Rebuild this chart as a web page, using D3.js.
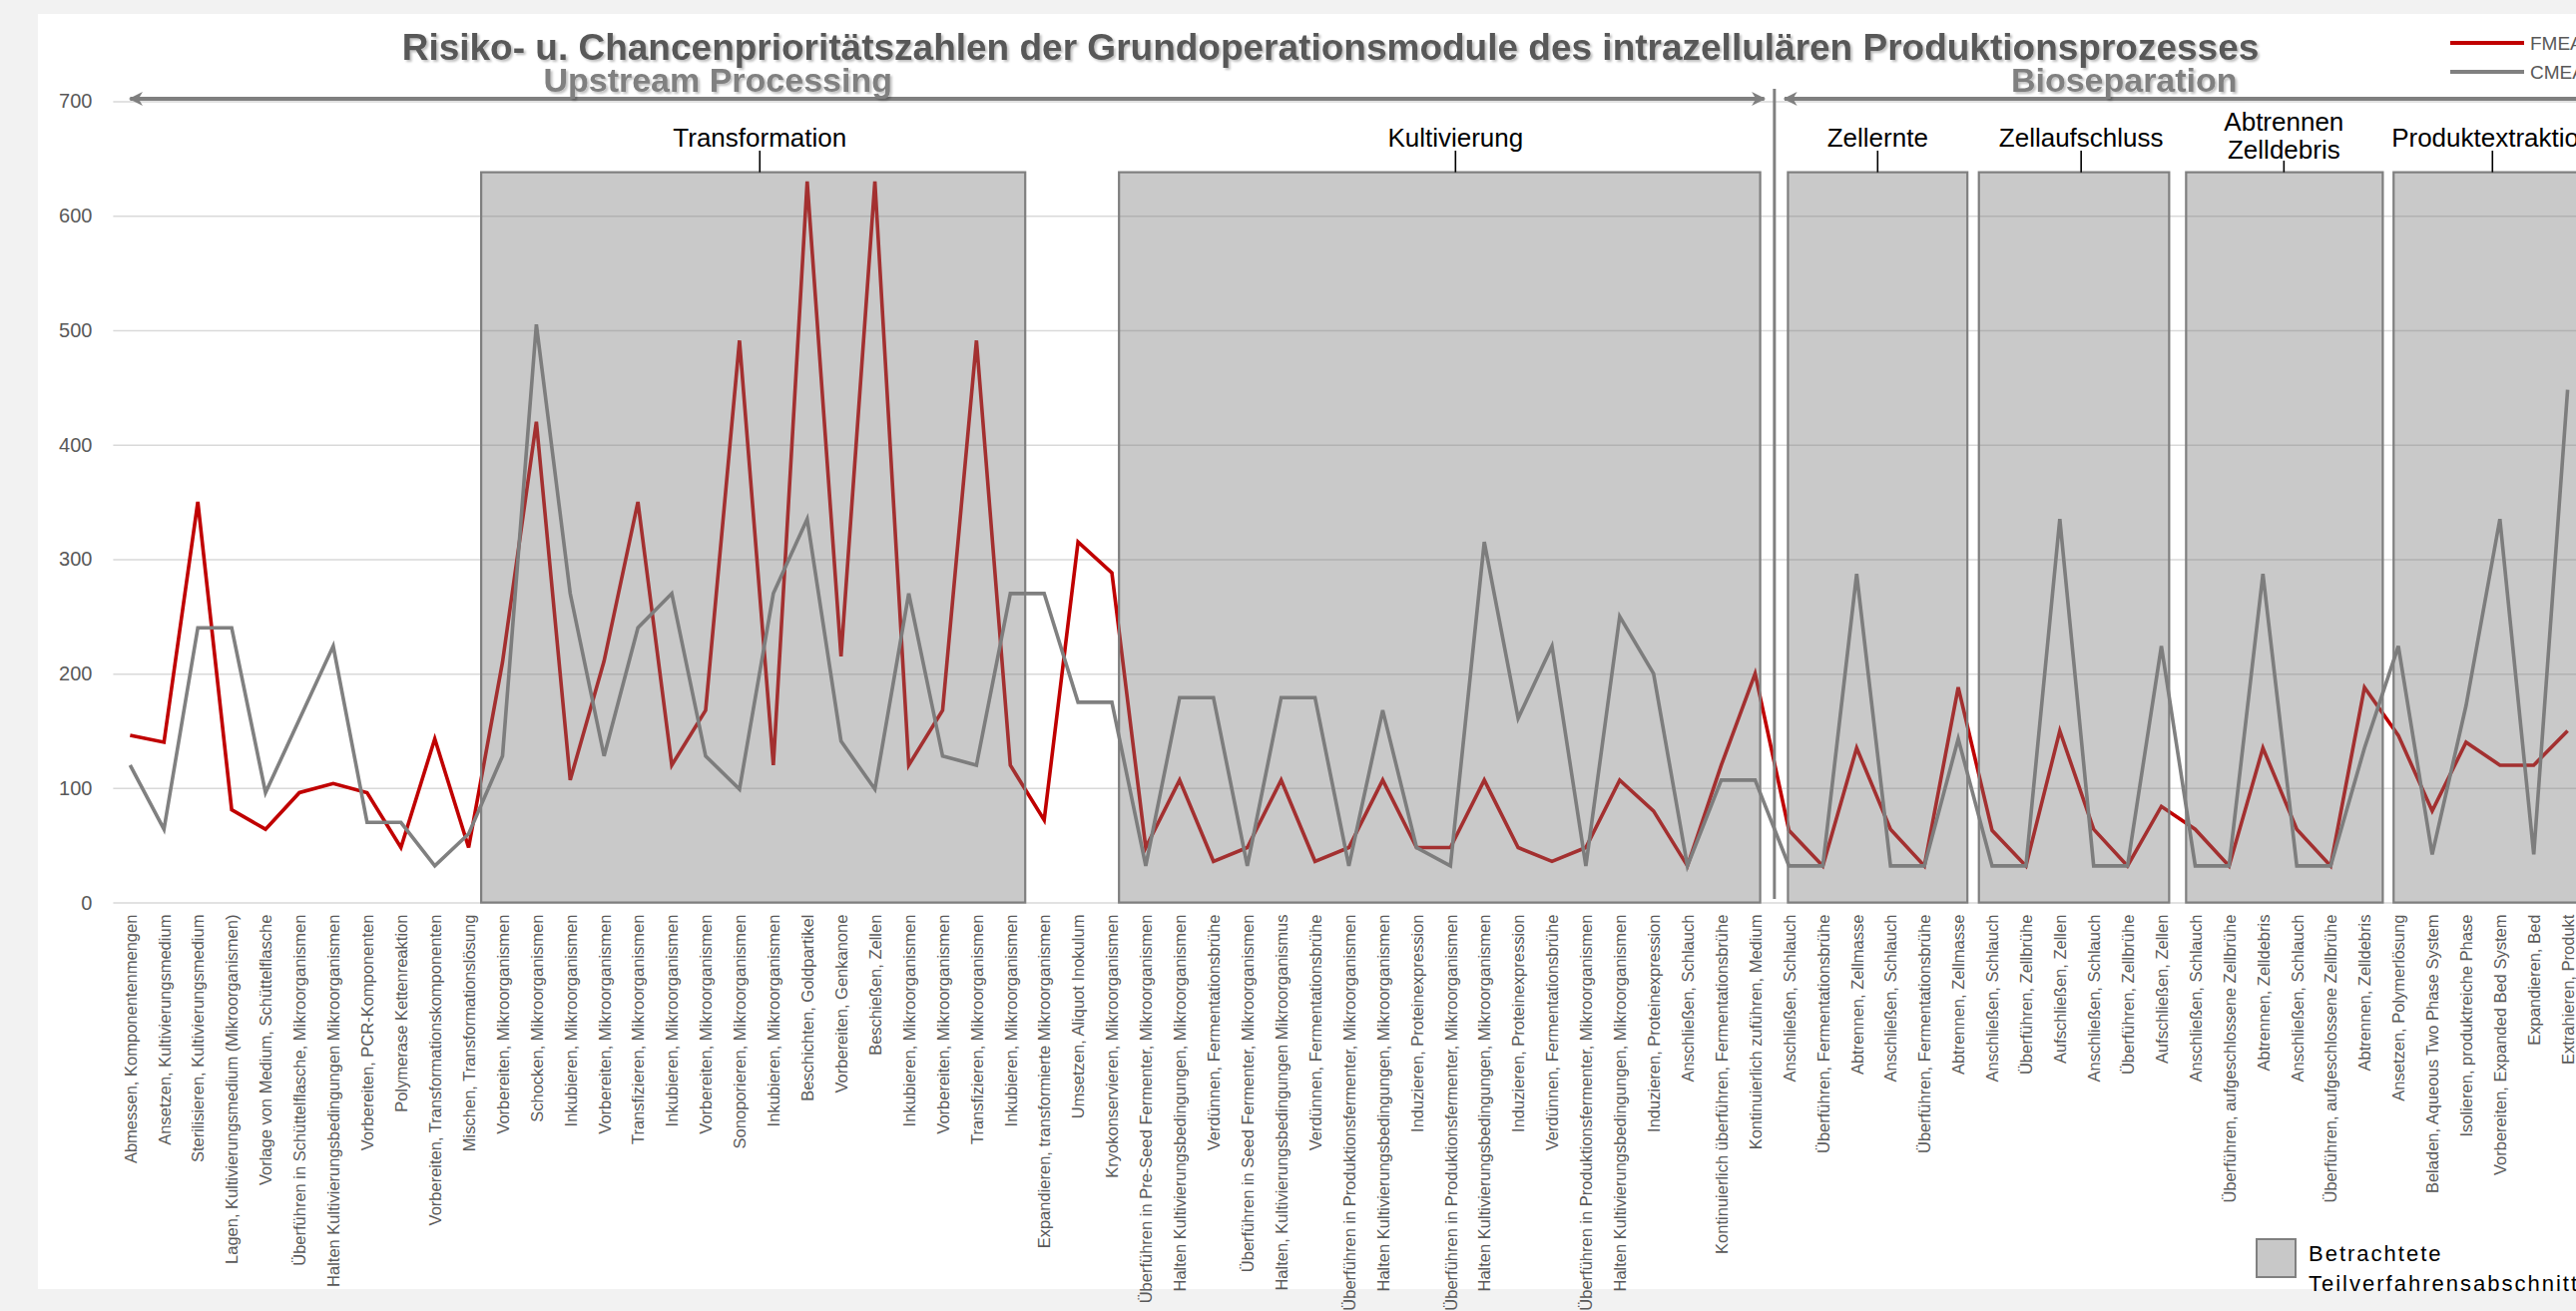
<!DOCTYPE html>
<html>
<head>
<meta charset="utf-8">
<script src="https://cdnjs.cloudflare.com/ajax/libs/d3/7.8.5/d3.min.js"></script>
<style>
body { margin: 0; background: #f2f2f2; overflow: hidden; }
text { font-family: "Liberation Sans", Arial, sans-serif; }
</style>
</head>
<body>
<script>
// categories (Grundoperationen)
var categories = [
    "Abmessen, Komponentenmengen", "Ansetzen, Kultivierungsmedium", "Sterilisieren, Kultivierungsmedium",
    "Lagen, Kultivierungsmedium (Mikroorganismen)", "Vorlage von Medium, Schüttelflasche",
    "Überführen in Schüttelflasche, Mikroorganismen", "Halten Kultivierungsbedingungen Mikroorganismen",
    "Vorbereiten, PCR-Komponenten", "Polymerase Kettenreaktion", "Vorbereiten, Transformationskomponenten",
    "Mischen, Transformationslösung", "Vorbereiten, Mikroorganismen", "Schocken, Mikroorganismen",
    "Inkubieren, Mikroorganismen", "Vorbereiten, Mikroorganismen", "Transfizieren, Mikroorganismen",
    "Inkubieren, Mikroorganismen", "Vorbereiten, Mikroorganismen", "Sonoporieren, Mikroorganismen",
    "Inkubieren, Mikroorganismen", "Beschichten, Goldpartikel", "Vorbereiten, Genkanone",
    "Beschießen, Zellen", "Inkubieren, Mikroorganismen", "Vorbereiten, Mikroorganismen",
    "Transfizieren, Mikroorganismen", "Inkubieren, Mikroorganismen",
    "Expandieren, transformierte Mikroorganismen", "Umsetzen, Aliquot Inokulum",
    "Kryokonservieren, Mikroorganismen", "Überführen in Pre-Seed Fermenter, Mikroorganismen",
    "Halten Kultivierungsbedingungen, Mikroorganismen", "Verdünnen, Fermentationsbrühe",
    "Überführen in Seed Fermenter, Mikroorganismen", "Halten, Kultivierungsbedingungen Mikroorganismus",
    "Verdünnen, Fermentationsbrühe", "Überführen in Produktionsfermenter, Mikroorganismen",
    "Halten Kultivierungsbedingungen, Mikroorganismen", "Induzieren, Proteinexpression",
    "Überführen in Produktionsfermenter, Mikroorganismen", "Halten Kultivierungsbedingungen, Mikroorganismen",
    "Induzieren, Proteinexpression", "Verdünnen, Fermentationsbrühe",
    "Überführen in Produktionsfermenter, Mikroorganismen", "Halten Kultivierungsbedingungen, Mikroorganismen",
    "Induzieren, Proteinexpression", "Anschließen, Schlauch", "Kontinuierlich überführen, Fermentationsbrühe",
    "Kontinuierlich zuführen, Medium", "Anschließen, Schlauch", "Überführen, Fermentationsbrühe",
    "Abtrennen, Zellmasse", "Anschließen, Schlauch", "Überführen, Fermentationsbrühe", "Abtrennen, Zellmasse",
    "Anschließen, Schlauch", "Überführen, Zellbrühe", "Aufschließen, Zellen", "Anschließen, Schlauch",
    "Überführen, Zellbrühe", "Aufschließen, Zellen", "Anschließen, Schlauch",
    "Überführen, aufgeschlossene Zellbrühe", "Abtrennen, Zelldebris", "Anschließen, Schlauch",
    "Überführen, aufgeschlossene Zellbrühe", "Abtrennen, Zelldebris", "Ansetzen, Polymerlösung",
    "Beladen, Aqueous Two Phase System", "Isolieren, produktreiche Phase",
    "Vorbereiten, Expanded Bed System", "Expandieren, Bed", "Extrahieren, Produkt"
];

// Risikoprioritätszahlen (FMEA)
var fmea = [146, 140, 350, 81, 64, 96, 104, 96, 48, 143, 48, 210, 420, 107, 211, 350, 120, 168, 491, 120,
    630, 215, 630, 120, 168, 491, 120, 72, 315, 288, 48, 107, 36, 48, 107, 36, 48, 107, 48, 48,
    107, 48, 36, 48, 107, 80, 32, 120, 200, 63, 32, 135, 64, 32, 188, 63, 32, 150, 64, 32,
    84, 64, 32, 135, 64, 32, 188, 146, 80, 140, 120, 120, 150];

// Chancenprioritätszahlen (CME)
var cme = [120, 64, 240, 240, 96, 160, 224, 70, 70, 32, 60, 128, 505, 270, 128, 240, 270, 128, 99, 270,
    335, 141, 99, 270, 128, 120, 270, 270, 175, 175, 32, 179, 179, 32, 179, 179, 32, 168, 48, 32,
    315, 161, 224, 32, 250, 200, 32, 107, 107, 32, 32, 287, 32, 32, 143, 32, 32, 335, 32, 32,
    224, 32, 32, 287, 32, 32, 135, 224, 42, 172, 335, 42, 448];

var yTicks = [0, 100, 200, 300, 400, 500, 600, 700];

// betrachtete Teilverfahrensabschnitte, in category units
var sections = [
    {name: ["Transformation"], start: 10.37, end: 26.44, label: 18.6},
    {name: ["Kultivierung"], start: 29.21, end: 48.15, label: 39.15},
    {name: ["Zellernte"], start: 48.97, end: 54.27, label: 51.62},
    {name: ["Zellaufschluss"], start: 54.61, end: 60.23, label: 57.63},
    {name: ["Abtrennen", "Zelldebris"], start: 60.73, end: 66.54, label: 63.62},
    {name: ["Produktextraktion"], start: 66.86, end: 72.7, label: 69.78}
];

var phases = [
    {name: "Upstream Processing", start: 0, end: 48.27, label: 17.36},
    {name: "Bioseparation", start: 48.87, end: 76, label: 58.9}
];
var phaseBoundary = 48.57;

// dimensions
var width = 2581, height = 1314;
var plotLeft = 113.4, band = 33.92;

var x = d3.scaleLinear()
    .domain([-0.5, categories.length - 0.5])
    .range([plotLeft, plotLeft + categories.length * band]);
var y = d3.scaleLinear().domain([0, 700]).range([904.6, 101.5]);

var svg = d3.select("body").append("svg")
    .attr("width", width)
    .attr("height", height);

var defs = svg.append("defs");
defs.append("filter").attr("id", "shadow")
    .append("feDropShadow")
    .attr("dx", 2).attr("dy", 2).attr("stdDeviation", 1.2)
    .attr("flood-color", "#000").attr("flood-opacity", 0.25);
defs.append("marker")
    .attr("id", "arrow")
    .attr("viewBox", "0 0 10 10")
    .attr("refX", 9).attr("refY", 5)
    .attr("markerUnits", "userSpaceOnUse")
    .attr("markerWidth", 16).attr("markerHeight", 14)
    .attr("orient", "auto-start-reverse")
    .append("path")
    .attr("d", "M0,0 L10,5 L0,10 L3,5 Z")
    .attr("fill", "#7f7f7f");

// background + chart panel
svg.append("rect").attr("width", width).attr("height", height).attr("fill", "#f2f2f2");
svg.append("rect").attr("x", 38).attr("y", 14).attr("width", width).attr("height", 1278).attr("fill", "#fff");

// gridlines + y labels
var yAxis = svg.append("g")
    .attr("transform", "translate(" + plotLeft + ",0)")
    .call(d3.axisLeft(y).tickValues(yTicks).tickSize(-(width - plotLeft + 20)).tickPadding(21));
yAxis.select(".domain").remove();
yAxis.selectAll(".tick line").attr("stroke", "#d9d9d9").attr("stroke-width", 1.5);
yAxis.selectAll(".tick text")
    .attr("fill", "#595959")
    .style("font-size", "20px");

// lines
var line = d3.line()
    .x(function(d, i) { return x(i); })
    .y(function(d) { return y(d); });

svg.append("path")
    .datum(fmea)
    .attr("fill", "none")
    .attr("stroke", "#c00000")
    .attr("stroke-width", 3.6)
    .attr("d", line);

svg.append("path")
    .datum(cme)
    .attr("fill", "none")
    .attr("stroke", "#808080")
    .attr("stroke-width", 3.6)
    .attr("d", line);

// section boxes (translucent overlay)
var boxTop = y(638);
var sec = svg.append("g").selectAll("g")
    .data(sections)
    .enter().append("g");

sec.append("rect")
    .attr("x", function(d) { return x(d.start); })
    .attr("y", boxTop)
    .attr("width", function(d) { return x(d.end) - x(d.start); })
    .attr("height", y(0) - boxTop)
    .attr("fill", "#777")
    .attr("fill-opacity", 0.4)
    .attr("stroke", "#7f7f7f")
    .attr("stroke-width", 2.2);

sec.append("line")
    .attr("x1", function(d) { return x(d.label); })
    .attr("x2", function(d) { return x(d.label); })
    .attr("y1", function(d) { return d.name.length > 1 ? 161 : 151; })
    .attr("y2", boxTop)
    .attr("stroke", "#000")
    .attr("stroke-width", 1.6);

sec.append("text")
    .attr("y", function(d) { return d.name.length > 1 ? 131 : 147; })
    .attr("text-anchor", "middle")
    .style("font-size", "26px")
    .attr("fill", "#000")
    .selectAll("tspan")
    .data(function(d) { return d.name.map(function(n) { return {text: n, at: d.label}; }); })
    .enter().append("tspan")
    .attr("x", function(d) { return x(d.at); })
    .attr("dy", function(d, i) { return i ? 28 : 0; })
    .text(function(d) { return d.text; });

// phase arrows
var arrowY = 99;
phases.forEach(function(p) {
    svg.append("line")
        .attr("x1", x(p.start)).attr("x2", x(p.end))
        .attr("y1", arrowY).attr("y2", arrowY)
        .attr("stroke", "#7f7f7f")
        .attr("stroke-width", 4)
        .attr("marker-start", "url(#arrow)")
        .attr("marker-end", "url(#arrow)");
    svg.append("text")
        .attr("x", x(p.label))
        .attr("y", 92)
        .attr("text-anchor", "middle")
        .attr("fill", "#808080")
        .attr("filter", "url(#shadow)")
        .style("font-size", "34px")
        .style("font-weight", "bold")
        .text(p.name);
});

svg.append("line")
    .attr("x1", x(phaseBoundary)).attr("x2", x(phaseBoundary))
    .attr("y1", 89).attr("y2", 901)
    .attr("stroke", "#808080")
    .attr("stroke-width", 3);

// title
svg.append("text")
    .attr("x", 1333)
    .attr("y", 60)
    .attr("text-anchor", "middle")
    .attr("fill", "#595959")
    .attr("filter", "url(#shadow)")
    .style("font-size", "37px")
    .style("font-weight", "bold")
    .text("Risiko- u. Chancenprioritätszahlen der Grundoperationsmodule des intrazellulären Produktionsprozesses");

// legend series
var legend = [
    {name: "FMEA", color: "#c00000"},
    {name: "CMEA", color: "#808080"}
];
legend.forEach(function(l, i) {
    var ly = 43 + i * 29;
    svg.append("line")
        .attr("x1", 2455).attr("x2", 2529)
        .attr("y1", ly).attr("y2", ly)
        .attr("stroke", l.color).attr("stroke-width", 4);
    svg.append("text")
        .attr("x", 2535).attr("y", ly)
        .attr("dy", ".35em")
        .attr("fill", "#595959")
        .style("font-size", "19px")
        .text(l.name);
});

// legend box
svg.append("rect")
    .attr("x", 2261).attr("y", 1242)
    .attr("width", 39).attr("height", 38)
    .attr("fill", "#c8c8c8")
    .attr("stroke", "#808080")
    .attr("stroke-width", 2);
svg.append("text")
    .attr("x", 2313).attr("y", 1264)
    .style("font-size", "22px")
    .style("letter-spacing", "2px")
    .text("Betrachtete");
svg.append("text")
    .attr("x", 2313).attr("y", 1294)
    .style("font-size", "22px")
    .style("letter-spacing", "2px")
    .text("Teilverfahrensabschnitte");

// x axis labels
var xAxis = svg.append("g")
    .attr("transform", "translate(0," + y(0) + ")")
    .call(d3.axisBottom(x)
        .tickValues(d3.range(categories.length))
        .tickFormat(function(i) { return categories[i]; })
        .tickSize(0));
xAxis.select(".domain").remove();
xAxis.selectAll(".tick text")
    .attr("transform", "rotate(-90)")
    .attr("x", -12)
    .attr("y", 0)
    .attr("dy", ".35em")
    .style("text-anchor", "end")
    .style("font-size", "16.5px")
    .attr("fill", "#595959");
</script>
</body>
</html>
